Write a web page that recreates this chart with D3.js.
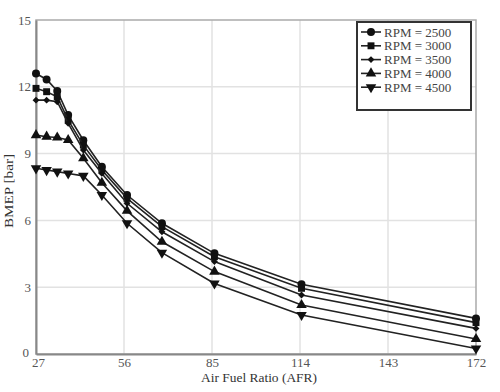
<!DOCTYPE html>
<html><head><meta charset="utf-8">
<script src="https://cdn.jsdelivr.net/npm/d3@7"></script>
<style>body{margin:0;background:#fff}svg{display:block}</style>
</head><body><svg id="c" width="500" height="392"></svg>
<script>
const afr = [27, 30.5, 34, 37.6, 42.6, 48.7, 57, 68.5, 85.8, 114.5, 172];
const rpm2500 = [12.6, 12.33, 11.81, 10.73, 9.6, 8.41, 7.14, 5.87, 4.52, 3.13, 1.6];
const rpm3000 = [11.93, 11.78, 11.55, 10.5, 9.38, 8.26, 6.99, 5.72, 4.37, 2.95, 1.41];
const rpm3500 = [11.4, 11.4, 11.33, 10.36, 9.16, 8.11, 6.77, 5.49, 4.15, 2.65, 1.15];
const rpm4000 = [9.83, 9.76, 9.72, 9.61, 8.79, 7.69, 6.43, 5.04, 3.7, 2.2, 0.67];
const rpm4500 = [8.34, 8.26, 8.19, 8.11, 8.0, 7.14, 5.87, 4.55, 3.17, 1.75, 0.25];
const seriesNames = ["RPM = 2500", "RPM = 3000", "RPM = 3500", "RPM = 4000", "RPM = 4500"];
const xTicks = [27, 56, 85, 114, 143, 172];
const yTicks = [0, 3, 6, 9, 12, 15];

const series = [rpm2500, rpm3000, rpm3500, rpm4000, rpm4500];
const symbols = [d3.symbolCircle, d3.symbolSquare, d3.symbolDiamond2, d3.symbolTriangle, d3.symbolTriangle];
const symSizes = [50, 48, 30, 48, 48];
const rot = [0, 0, 0, 0, 180];

const svg = d3.select("#c");
const m = {l: 36, r: 24, t: 20, b: 38};
const W = 500, H = 392;
const x = d3.scaleLinear().domain([27, 172]).range([m.l, W - m.r]);
const y = d3.scaleLinear().domain([0, 15]).range([H - m.b, m.t]);
const font = "'Liberation Serif','Times New Roman',serif";

// grid
svg.append("g").selectAll("line").data(yTicks.slice(1, -1)).join("line")
  .attr("x1", m.l).attr("x2", W - m.r).attr("y1", d => y(d)).attr("y2", d => y(d))
  .attr("stroke", "#e2e2e2").attr("stroke-width", 1.5);
svg.append("g").selectAll("line").data(xTicks.slice(1, -1)).join("line")
  .attr("y1", m.t).attr("y2", H - m.b).attr("x1", d => x(d)).attr("x2", d => x(d))
  .attr("stroke", "#e2e2e2").attr("stroke-width", 1.5);
// frame
svg.append("rect").attr("x", m.l).attr("y", m.t).attr("width", W - m.r - m.l).attr("height", H - m.b - m.t)
  .attr("fill", "none").attr("stroke", "#aaa").attr("stroke-width", 1.5);

const xa = svg.append("g").attr("transform", `translate(0,${H - m.b})`)
  .call(d3.axisBottom(x).tickValues(xTicks).tickSize(0).tickPadding(4));
const ya = svg.append("g").attr("transform", `translate(${m.l},0)`)
  .call(d3.axisLeft(y).tickValues(yTicks).tickSize(0).tickPadding(5));
[xa, ya].forEach(a => {
  a.select(".domain").attr("stroke", "#888").attr("stroke-width", 2);
  a.selectAll("text").attr("font-family", font).attr("font-size", 13).attr("fill", "#555");
});
xa.selectAll(".tick text").filter(d => d === 27).attr("dx", 2);
ya.selectAll(".tick text").filter(d => d === 0).attr("dx", -2).attr("dy", "0.2em");

svg.append("text").attr("x", 259).attr("y", 382).attr("text-anchor", "middle")
  .attr("font-family", font).attr("font-size", 13).attr("fill", "#333")
  .attr("textLength", 116).attr("lengthAdjust", "spacingAndGlyphs").text("Air Fuel Ratio (AFR)");
svg.append("text").attr("transform", "translate(13,191) rotate(-90)").attr("text-anchor", "middle")
  .attr("font-family", font).attr("font-size", 13).attr("fill", "#333")
  .attr("textLength", 74).attr("lengthAdjust", "spacingAndGlyphs").text("BMEP [bar]");

const line = d3.line().x((d, i) => x(afr[i])).y(d => y(d));
series.forEach((s, k) => {
  svg.append("path").datum(s).attr("d", line).attr("fill", "none")
    .attr("stroke", "#222").attr("stroke-width", 1.6);
  svg.append("g").selectAll("path").data(s).join("path")
    .attr("d", d3.symbol().type(symbols[k]).size(symSizes[k]))
    .attr("transform", (d, i) => `translate(${x(afr[i])},${y(d)}) rotate(${rot[k]})`)
    .attr("fill", "#111");
});

// legend
const lg = svg.append("g");
lg.append("rect").attr("x", 357).attr("y", 22).attr("width", 114).attr("height", 88)
  .attr("fill", "#fff").attr("stroke", "#333").attr("stroke-width", 2);
seriesNames.forEach((n, k) => {
  const cy = 32 + k * 13.8;
  lg.append("line").attr("x1", 361).attr("x2", 381).attr("y1", cy).attr("y2", cy)
    .attr("stroke", "#222").attr("stroke-width", 1.6);
  lg.append("path").attr("d", d3.symbol().type(symbols[k]).size(symSizes[k]))
    .attr("transform", `translate(371,${cy}) rotate(${rot[k]})`).attr("fill", "#111");
  lg.append("text").attr("x", 384).attr("y", cy + 4.5).attr("font-family", font)
    .attr("font-size", 13).attr("fill", "#444").text(n);
});
</script></body></html>
